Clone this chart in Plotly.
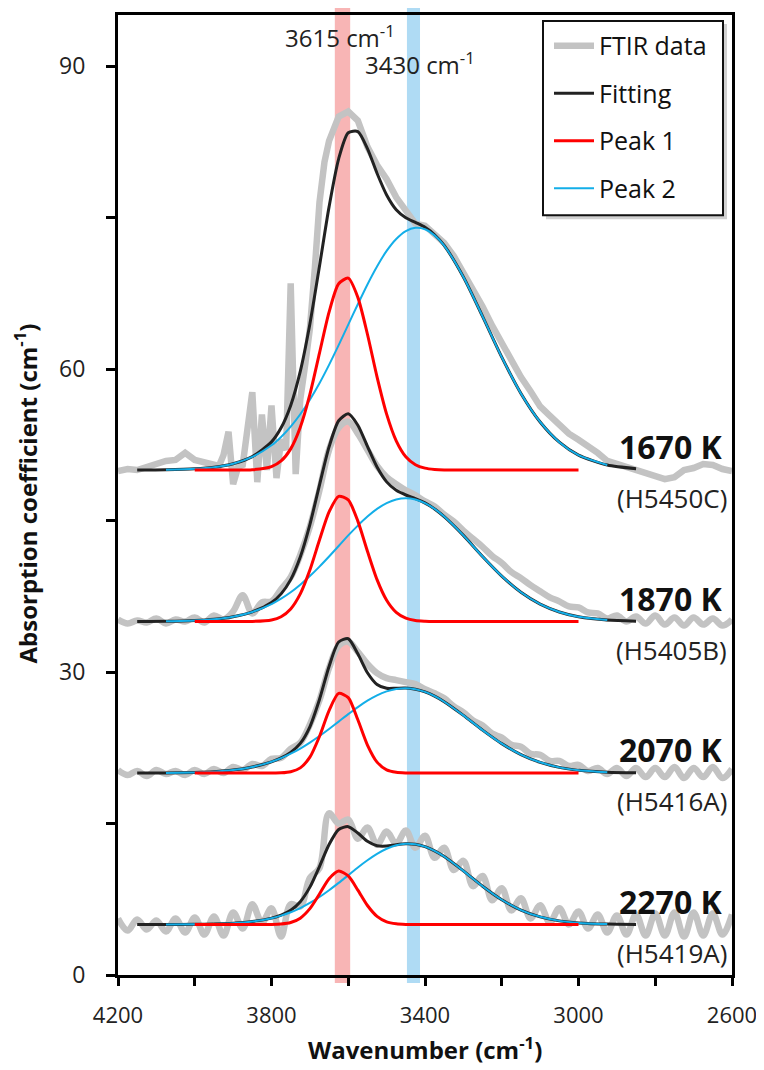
import plotly.graph_objects as go

# ---------------- data ----------------
X_RANGE = [4200, 2600]
Y_RANGE = [0, 95.06]

FIT_WN = [4150, 4075, 4000, 3950, 3900, 3850, 3800, 3775, 3750, 3725,
          3700, 3675, 3650, 3625, 3600, 3575, 3550, 3525, 3500, 3475,
          3450, 3425, 3400, 3375, 3350, 3300, 3250, 3200, 3150, 3100,
          3050, 3000, 2925, 2850]

FIT_1670 = [50.0, 50.03, 50.12, 50.28, 50.63, 51.33, 52.79, 54.18, 56.4, 59.77,
            64.46, 70.18, 76.06, 80.82, 83.4, 83.52, 81.83, 79.39, 77.24, 75.78,
            74.98, 74.52, 74.04, 73.3, 72.24, 69.12, 65.22, 61.18, 57.59, 54.76,
            52.76, 51.48, 50.5, 50.14]
P1_1670 = [None, None, 50.0, 50.0, 50.0, 50.03, 50.34, 50.9, 52.1, 54.24,
           57.49, 61.58, 65.64, 68.45, 69.0, 67.1, 63.45, 59.23, 55.54, 52.9,
           51.32, 50.53, 50.19, 50.06, 50.01, 50.0, 50.0, 50.0, 50.0, 50.0,
           50.0, 50.0, None, None]
P2_1670 = [None, 50.03, 50.12, 50.28, 50.63, 51.3, 52.45, 53.28, 54.3, 55.53,
           56.97, 58.6, 60.42, 62.37, 64.4, 66.42, 68.38, 70.16, 71.7, 72.88,
           73.66, 73.99, 73.85, 73.24, 72.23, 69.12, 65.22, 61.18, 57.59, 54.76,
           52.76, 51.48, 50.5, None]

FIT_1870 = [35.0, 35.02, 35.1, 35.23, 35.48, 35.96, 36.89, 37.74, 39.15, 41.39,
            44.6, 48.51, 52.29, 54.88, 55.57, 54.44, 52.35, 50.3, 48.83, 47.99,
            47.53, 47.18, 46.75, 46.15, 45.39, 43.53, 41.44, 39.5, 37.9, 36.73,
            35.95, 35.48, 35.15, 35.04]
P1_1870 = [None, None, 35.0, 35.0, 35.0, 35.01, 35.16, 35.48, 36.25, 37.74,
           40.1, 43.07, 45.85, 47.4, 47.04, 44.94, 41.96, 39.15, 37.11, 35.91,
           35.33, 35.1, 35.03, 35.0, 35.0, 35.0, 35.0, 35.0, 35.0, 35.0,
           35.0, 35.0, None, None]
P2_1870 = [None, 35.02, 35.1, 35.23, 35.48, 35.95, 36.73, 37.26, 37.9, 38.65,
           39.5, 40.44, 41.44, 42.48, 43.53, 44.5, 45.39, 46.15, 46.72, 47.08,
           47.2, 47.08, 46.72, 46.15, 45.39, 43.53, 41.44, 39.5, 37.9, 36.73,
           35.95, 35.48, 35.15, None]

FIT_2070 = [20.0, 20.01, 20.06, 20.13, 20.29, 20.6, 21.11, 21.49, 22.04, 22.93,
            24.58, 27.28, 30.55, 32.97, 33.3, 31.8, 29.93, 28.77, 28.39, 28.4,
            28.41, 28.3, 28.03, 27.61, 27.06, 25.71, 24.25, 22.91, 21.83, 21.06,
            20.56, 20.28, 20.08, 20.02]
P1_2070 = [None, None, 20.0, 20.0, 20.0, 20.0, 20.0, 20.02, 20.13, 20.51,
           21.57, 23.62, 26.19, 27.88, 27.47, 25.27, 22.77, 21.08, 20.31, 20.07,
           20.01, 20.0, 20.0, 20.0, 20.0, 20.0, 20.0, 20.0, 20.0, 20.0,
           20.0, 20.0, None, None]
P2_2070 = [None, 20.01, 20.06, 20.13, 20.29, 20.6, 21.11, 21.47, 21.91, 22.42,
           23.01, 23.66, 24.36, 25.09, 25.83, 26.53, 27.16, 27.69, 28.08, 28.33,
           28.4, 28.3, 28.03, 27.61, 27.06, 25.71, 24.25, 22.91, 21.83, 21.06,
           20.56, 20.28, 20.08, None]

FIT_2270 = [5.0, 5.0, 5.02, 5.05, 5.12, 5.29, 5.63, 5.93, 6.41, 7.26,
            8.7, 10.74, 12.92, 14.41, 14.69, 14.06, 13.24, 12.8, 12.77, 12.91,
            13.0, 12.95, 12.71, 12.29, 11.73, 10.31, 8.79, 7.45, 6.43, 5.76,
            5.36, 5.16, 5.04, 5.01]
P1_2270 = [None, None, 5.0, 5.0, 5.0, 5.0, 5.01, 5.05, 5.2, 5.63,
           6.57, 8.02, 9.53, 10.29, 9.81, 8.41, 6.88, 5.81, 5.27, 5.07,
           5.01, 5.0, 5.0, 5.0, 5.0, 5.0, 5.0, 5.0, 5.0, 5.0,
           5.0, 5.0, None, None]
P2_2270 = [None, 5.0, 5.02, 5.05, 5.12, 5.29, 5.62, 5.88, 6.21, 6.63,
           7.13, 7.72, 8.39, 9.12, 9.88, 10.65, 11.36, 11.99, 12.5, 12.84,
           12.99, 12.95, 12.71, 12.29, 11.73, 10.31, 8.79, 7.45, 6.43, 5.76,
           5.36, 5.16, 5.04, None]

# FTIR data (gray) -- common 25 cm-1 grid, 4200 -> 2600
GRAY_WN = list(range(4200, 2599, -25))
FTIR_1870 = [35.2, 34.8, 35.1, 34.9, 35.3, 34.8, 35.2, 35.0, 35.4, 34.9,
             35.6, 35.2, 36.0, 37.6, 35.8, 36.9, 37.0, 38.2, 39.4, 41.6,
             44.4, 48.0, 52.0, 54.2, 54.8, 53.6, 52.0, 50.4, 49.3, 48.6,
             48.0, 47.5, 46.9, 46.4, 45.6, 44.9, 44.0, 43.2, 42.4, 41.5,
             40.8, 39.9, 39.3, 38.6, 38.0, 37.4, 37.0, 36.5, 36.4, 35.9,
             35.8, 35.3, 35.6, 35.0, 35.5, 34.8, 35.6, 34.7, 35.4, 34.6,
             35.4, 34.7, 35.3, 34.6, 35.2]
FTIR_2070 = [20.3, 19.8, 20.2, 19.7, 20.3, 19.9, 20.2, 19.8, 20.3, 19.9,
             20.4, 20.0, 20.6, 20.3, 20.9, 20.7, 21.4, 21.5, 22.4, 23.0,
             24.8, 27.2, 30.4, 32.6, 33.0, 32.0, 30.8, 29.9, 29.4, 29.2,
             29.0, 28.8, 28.3, 27.9, 27.4, 26.6, 26.0, 25.2, 24.7, 23.9,
             23.5, 22.8, 22.6, 21.9, 21.8, 21.2, 21.2, 20.7, 20.8, 20.2,
             20.5, 19.9, 20.5, 19.7, 20.5, 19.6, 20.5, 19.6, 20.6, 19.5,
             20.5, 19.6, 20.6, 19.5, 20.4]
FTIR_2270 = [5.6, 4.4, 5.5, 4.5, 5.4, 4.3, 5.6, 4.2, 5.7, 4.0,
             5.8, 3.9, 6.2, 4.6, 7.0, 5.2, 6.6, 3.8, 7.0, 6.8,
             9.6, 10.6, 16.0, 15.0, 15.4, 13.5, 14.6, 12.9, 14.2, 13.0,
             14.3, 12.6, 13.8, 11.6, 12.6, 10.4, 11.3, 8.8, 9.8, 7.4,
             8.6, 6.4, 7.6, 5.6, 6.9, 5.2, 6.6, 5.0, 6.3, 4.6,
             6.0, 4.2, 5.9, 4.0, 6.0, 3.9, 6.1, 3.9, 6.2, 3.8,
             6.2, 3.9, 6.1, 4.0, 6.0]
# 1670 K has a noisy region, sampled more finely
GRAY_WN_1670 = [4200, 4175, 4150, 4125, 4100, 4075, 4050, 4025, 4000, 3975,
                3950, 3937, 3925, 3912, 3900, 3887, 3875, 3862, 3850, 3837,
                3825, 3812, 3800, 3787, 3775, 3762, 3750, 3737, 3725, 3712,
                3700, 3687, 3675, 3662, 3650] + list(range(3625, 2599, -25))
FTIR_1670 = [49.9, 50.1, 50.0, 50.3, 50.6, 50.9, 51.0, 51.7, 51.0, 50.8,
             50.5, 50.4, 51.5, 53.8, 48.6, 50.3, 50.5, 54.0, 57.7, 48.8,
             55.5, 50.0, 56.4, 49.2, 53.0, 52.0, 68.5, 49.6, 57.0, 60.5,
             64.0, 70.0, 76.5, 80.5, 82.6,
             85.0, 85.5, 84.6, 82.0, 80.2, 78.8, 77.0, 75.6, 74.4, 74.2,
             73.4, 72.5, 71.2, 69.6, 67.9, 66.2, 64.3, 62.6, 60.8, 59.2,
             57.8, 56.3, 55.4, 54.4, 53.6, 53.0, 52.4, 51.7, 50.9, 50.6,
             50.2, 50.0, 49.7, 49.4, 49.1, 49.3, 50.0, 50.2, 50.6, 50.5,
             50.1, 49.9]

TEMPS = ["1670 K", "1870 K", "2070 K", "2270 K"]
SAMPLES = ["(H5450C)", "(H5405B)", "(H5416A)", "(H5419A)"]
BASELINES = [50, 35, 20, 5]
PEAK_BANDS = [3615, 3430]
BAND_LABELS = ["3615 cm<sup>-1</sup>", "3430 cm<sup>-1</sup>"]

SPECTRA = [
    (GRAY_WN_1670, FTIR_1670, FIT_1670, P1_1670, P2_1670, "linear"),
    (GRAY_WN, FTIR_1870, FIT_1870, P1_1870, P2_1870, "spline"),
    (GRAY_WN, FTIR_2070, FIT_2070, P1_2070, P2_2070, "spline"),
    (GRAY_WN, FTIR_2270, FIT_2270, P1_2270, P2_2270, "spline"),
]

# ---------------- styling ----------------
FONT = "Open Sans"
C_GRAY = "#c3c3c3"
C_FIT = "#222222"
C_P1 = "#ff0000"
C_P2 = "#13aee8"

# page offset compensation (browser body margin of 8 px)
PAGE_OFF = 8
W, H = 764, 1070
ML, MR, MT, MB = 118, 32, 12, 95

fig = go.Figure()
for i, (gx, gy, fit, p1, p2, gshape) in enumerate(SPECTRA):
    first = i == 0
    fig.add_trace(go.Scatter(x=gx, y=gy, mode="lines", name="FTIR data",
                             line=dict(color=C_GRAY, width=6.5, shape=gshape, smoothing=1.0),
                             legendgroup="ftir", legendrank=1, showlegend=first))
    fig.add_trace(go.Scatter(x=FIT_WN, y=fit, mode="lines", name="Fitting",
                             line=dict(color=C_FIT, width=3, shape="spline", smoothing=0.7),
                             legendgroup="fit", legendrank=2, showlegend=first))
    fig.add_trace(go.Scatter(x=FIT_WN, y=p2, mode="lines", name="Peak 2",
                             line=dict(color=C_P2, width=2, shape="spline", smoothing=0.7),
                             legendgroup="p2", legendrank=4, showlegend=first))
    fig.add_trace(go.Scatter(x=FIT_WN, y=p1, mode="lines", name="Peak 1",
                             line=dict(color=C_P1, width=3, shape="spline", smoothing=0.7),
                             legendgroup="p1", legendrank=3, showlegend=first))


def xfrac(wn):
    return (X_RANGE[0] - wn) / (X_RANGE[0] - X_RANGE[1])


PLOT_W = W - ML - MR
PLOT_H = H - MT - MB


def px_x(px):
    return (px - ML) / PLOT_W


def px_y(py):
    return (H - MB - py) / PLOT_H


band_cols = ["rgba(242,120,120,0.55)", "rgba(110,190,235,0.55)"]
band_half = [20, 17]
for c, col, hw in zip(PEAK_BANDS, band_cols, band_half):
    fig.add_shape(type="rect", xref="paper", yref="paper",
                  x0=xfrac(c + hw), x1=xfrac(c - hw), y0=px_y(983), y1=px_y(-10),
                  fillcolor=col, line=dict(width=0), layer="below")

# legend frame (drawn as shapes so its box matches the reference)
fig.add_shape(type="rect", xref="paper", yref="paper",
              x0=px_x(546), x1=px_x(727), y0=px_y(217), y1=px_y(21),
              fillcolor="rgba(0,0,0,0.18)", line=dict(width=0), layer="above")
fig.add_shape(type="rect", xref="paper", yref="paper",
              x0=px_x(543), x1=px_x(723), y0=px_y(213), y1=px_y(18),
              fillcolor="white", line=dict(color="#111", width=2), layer="above")

annos = []
annos.append(dict(x=3621, y=92.9, text=BAND_LABELS[0], showarrow=False,
                  font=dict(family=FONT, size=24, color="#222"), xanchor="center", yanchor="middle"))
annos.append(dict(x=3413, y=90.3, text=BAND_LABELS[1], showarrow=False,
                  font=dict(family=FONT, size=24, color="#222"), xanchor="center", yanchor="middle"))
for t, s, b in zip(TEMPS, SAMPLES, BASELINES):
    annos.append(dict(x=2617, y=b + 2.3, text="<b>" + t + "</b>", showarrow=False,
                      font=dict(family=FONT, size=32, color="#111"), xanchor="right", yanchor="middle"))
    annos.append(dict(x=2607, y=b - 2.8, text=s, showarrow=False,
                      font=dict(family=FONT, size=26, color="#222"), xanchor="right", yanchor="middle"))
annos.append(dict(xref="paper", yref="paper", x=0.5, y=px_y(1049),
                  text="<b>Wavenumber (cm<sup>-1</sup>)</b>", showarrow=False,
                  font=dict(family=FONT, size=24, color="#111"), xanchor="center", yanchor="middle"))
annos.append(dict(xref="paper", yref="paper", x=px_x(26), y=px_y(492),
                  text="<b>Absorption coefficient (cm<sup>-1</sup>)</b>", showarrow=False,
                  textangle=-90,
                  font=dict(family=FONT, size=24, color="#111"), xanchor="center", yanchor="middle"))

fig.update_layout(
    width=W - PAGE_OFF, height=H - PAGE_OFF,
    margin=dict(l=ML - PAGE_OFF, r=MR, t=MT - PAGE_OFF, b=MB),
    paper_bgcolor="white", plot_bgcolor="white",
    font=dict(family=FONT, color="#222"),
    annotations=annos,
    legend=dict(x=px_x(549), y=px_y(20), xanchor="left", yanchor="top",
                bgcolor="rgba(0,0,0,0)", borderwidth=0, itemwidth=40,
                font=dict(family=FONT, size=25, color="#111"),
                tracegroupgap=12, traceorder="grouped"),
    xaxis=dict(range=X_RANGE, tick0=2600, dtick=400,
               minor=dict(dtick=200, tick0=2600, ticks="outside", ticklen=8,
                          tickwidth=2.5, tickcolor="#000", showgrid=False),
               showgrid=False, zeroline=False, showline=True, linecolor="#000",
               linewidth=3, mirror=True, ticks="outside", ticklen=8, tickwidth=2.5,
               tickcolor="#000", tickfont=dict(family=FONT, size=22, color="#222"),
               ticklabelstandoff=11),
    yaxis=dict(range=Y_RANGE, tick0=0, dtick=30,
               minor=dict(dtick=15, tick0=0, ticks="outside", ticklen=9,
                          tickwidth=2.5, tickcolor="#000", showgrid=False),
               showgrid=False, zeroline=False, showline=True, linecolor="#000",
               linewidth=3, mirror=True, ticks="outside", ticklen=9, tickwidth=2.5,
               tickcolor="#000", tickfont=dict(family=FONT, size=23, color="#222"),
               ticklabelstandoff=16),
)

fig.write_html("out.html")
